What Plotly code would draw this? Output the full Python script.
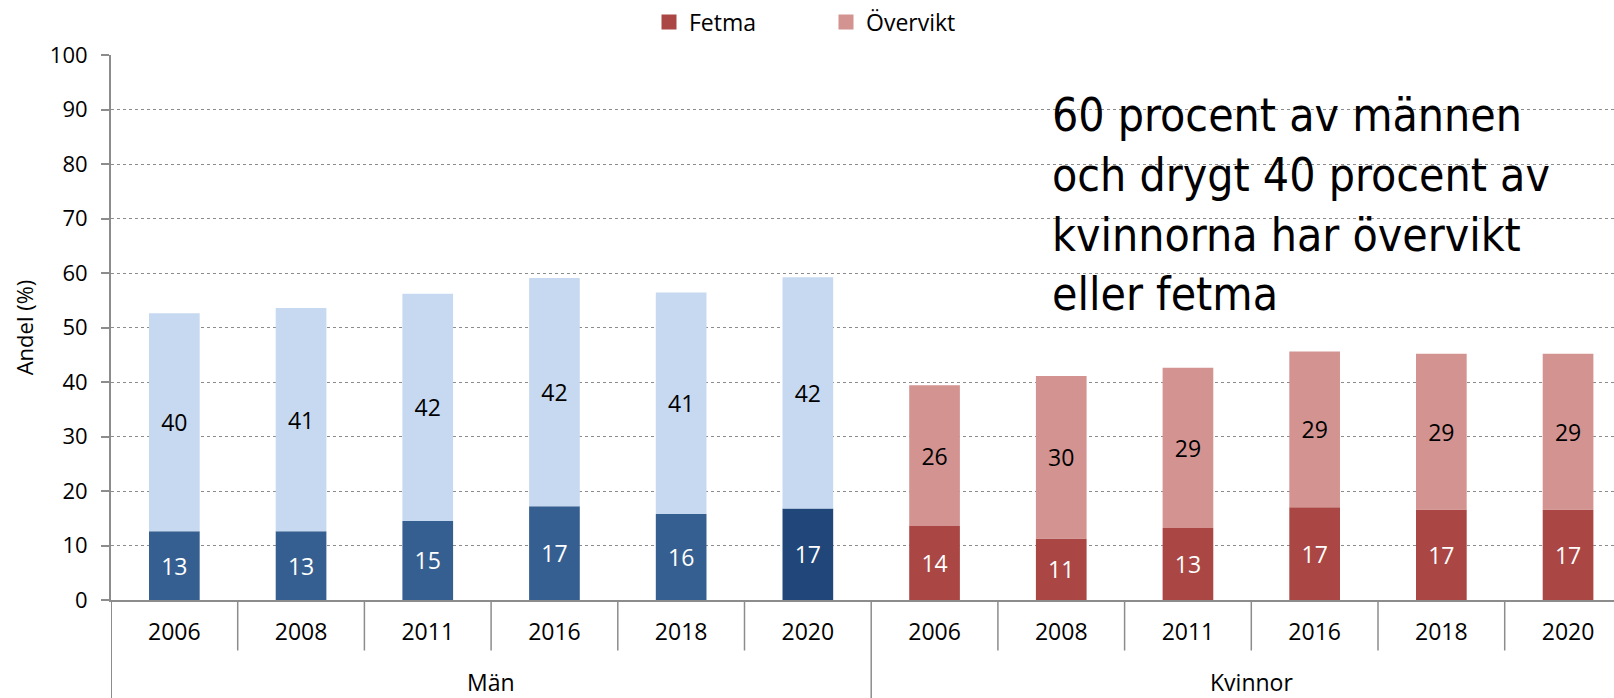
import plotly.graph_objects as go

# ---- data ----
years = ["2006", "2008", "2011", "2016", "2018", "2020"]
groups = ["Män", "Kvinnor"]
men_fetma = [12.6, 12.6, 14.5, 17.2, 15.8, 16.8]
men_overvikt = [40.0, 41.0, 41.7, 41.9, 40.6, 42.4]
women_fetma = [13.6, 11.3, 13.2, 17.0, 16.6, 16.6]
women_overvikt = [25.8, 29.8, 29.4, 28.6, 28.6, 28.6]
series_names = ["Fetma", "Övervikt"]
note_text = "60 procent av männen<br>och drygt 40 procent av<br>kvinnorna har övervikt<br>eller fetma"

# ---- styles ----
FONT = "Open Sans"
C_MEN_F = "#365F91"
C_MEN_F_2020 = "#214679"
C_MEN_O = "#C6D9F0"
C_WOM_F = "#AA4643"
C_WOM_O = "#D39391"
GRID = "#8C8C8C"
AXIS = "#8C8C8C"

n = len(years)
x_men = list(range(n))
x_wom = list(range(n, 2 * n))

men_f_colors = [C_MEN_F] * (n - 1) + [C_MEN_F_2020]

fig = go.Figure()
common = dict(width=0.4, textposition="inside", insidetextanchor="middle",
              texttemplate="%{y:.0f}", textangle=0, hoverinfo="skip",
              constraintext="none", showlegend=False)
fig.add_trace(go.Bar(x=x_men, y=men_fetma, marker=dict(color=men_f_colors, line_width=0),
                     textfont=dict(color="white", size=23, family=FONT),
                     name="Män fetma", **common))
fig.add_trace(go.Bar(x=x_men, y=men_overvikt, marker=dict(color=C_MEN_O, line_width=0),
                     textfont=dict(color="black", size=23, family=FONT),
                     name="Män övervikt", **common))
fig.add_trace(go.Bar(x=x_wom, y=women_fetma, marker=dict(color=C_WOM_F, line_width=0),
                     textfont=dict(color="white", size=23, family=FONT),
                     name=series_names[0], **common))
fig.add_trace(go.Bar(x=x_wom, y=women_overvikt, marker=dict(color=C_WOM_O, line_width=0),
                     textfont=dict(color="black", size=23, family=FONT),
                     name=series_names[1], **common))
# legend entries (square swatches)
for nm, col in zip(series_names, [C_WOM_F, C_WOM_O]):
    fig.add_trace(go.Scatter(x=[None], y=[None], mode="markers", name=nm,
                             marker=dict(symbol="square", size=15, color=col),
                             hoverinfo="skip", showlegend=True))

W, H = 1614, 698
ML, MR, MT, MB = 111, 0, 55, 98
plot_w = W - ML - MR
plot_h = H - MT - MB
cat_w = 126.7
x_max = -0.5 + plot_w / cat_w

# dividers
shapes = []
for k in range(1, 2 * n):
    b = k - 0.5
    y_end = -MB / plot_h if k == n else -50.5 / plot_h
    shapes.append(dict(type="line", xref="x", yref="paper", x0=b, x1=b, y0=0, y1=y_end,
                       line=dict(color=AXIS, width=1.5)))
shapes.append(dict(type="line", xref="x", yref="paper", x0=-0.5, x1=-0.5, y0=0, y1=-MB / plot_h,
                   line=dict(color=AXIS, width=2)))

annotations = []
for gi, g in enumerate(groups):
    annotations.append(dict(text=g, x=gi * n + (n - 1) / 2, xref="x", y=-81.5 / plot_h, yref="paper",
                            showarrow=False, yanchor="middle", xanchor="center",
                            font=dict(family=FONT, size=23, color="black")))
annotations.append(dict(text=note_text, x=(1050 - ML) / plot_w, xref="paper",
                        y=(600 - 204.5) / (plot_h / 100), yref="y",
                        xanchor="left", yanchor="middle", align="left", showarrow=False,
                        font=dict(family="DejaVu Sans Condensed", size=46, color="black")))

fig.update_layout(
    width=W, height=H,
    margin=dict(l=ML, r=MR, t=MT, b=MB, pad=0, autoexpand=False),
    barmode="relative",
    plot_bgcolor="white", paper_bgcolor="white",
    font=dict(family=FONT, size=22, color="black"),
    legend=dict(orientation="h", x=(649 - ML) / plot_w, xanchor="left", y=1.0 + (MT - 22) / plot_h,
                yanchor="middle", font=dict(family=FONT, size=23, color="black"),
                entrywidth=132, entrywidthmode="pixels", traceorder="normal",
                itemwidth=30, bgcolor="rgba(0,0,0,0)"),
    shapes=shapes,
    annotations=annotations,
    xaxis=dict(range=[-0.5, x_max], tickmode="array", tickvals=x_men + x_wom,
               ticktext=years + years, ticks="", showgrid=False, zeroline=False,
               showline=True, linecolor=AXIS, linewidth=2, ticklabelstandoff=10,
               tickfont=dict(family=FONT, size=23, color="black"), fixedrange=True),
    yaxis=dict(range=[0, 100], dtick=10, tick0=0, ticks="outside", ticklen=8, tickcolor=AXIS,
               tickwidth=2, showline=True, linecolor=AXIS, linewidth=2,
               showgrid=True, gridcolor=GRID, griddash="dot", gridwidth=1, zeroline=False,
               ticklabelstandoff=9, tickfont=dict(family=FONT, size=22, color="black"),
               title=dict(text="Andel (%)", standoff=10, font=dict(family=FONT, size=22, color="black"))),
)

fig.write_html("out.html", config={"displayModeBar": False},
               post_script="document.body.style.margin='0';document.body.style.overflow='hidden';")
